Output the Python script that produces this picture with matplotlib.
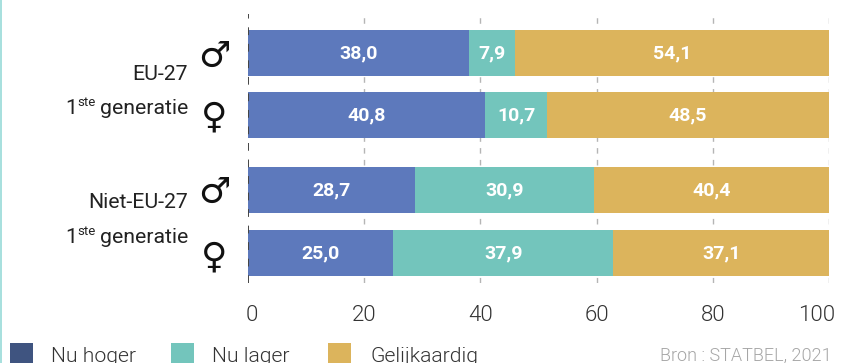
import matplotlib
matplotlib.use("Agg")
import matplotlib.pyplot as plt
from matplotlib.patches import Rectangle
from matplotlib.transforms import ScaledTranslation

plt.rcParams['font.family'] = ['Roboto', 'DejaVu Sans']

W, H = 844, 363

groups = ["EU-27", "Niet-EU-27"]
genders = ["♂", "♀", "♂", "♀"]
series_names = ["Nu hoger", "Nu lager", "Gelijkaardig"]
nu_hoger = [38.0, 40.8, 28.7, 25.0]
nu_lager = [7.9, 10.7, 30.9, 37.9]
gelijkaardig = [54.1, 48.5, 40.4, 37.1]
value_ticks = [0, 20, 40, 60, 80, 100]
source_text = "Bron : STATBEL, 2021"

bar_rows = [53, 115, 190, 253]
bar_height = 46
bar_colors = ["#5d79bc", "#73c5bc", "#dcb45c"]
legend_colors = ["#3f5480", "#73c5bc", "#dcb45c"]

fig = plt.figure(figsize=(W / 100, H / 100), dpi=100, facecolor="white")
ax = fig.add_axes([248 / W, 1 - 283 / H, (829 - 248) / W, (283 - 14) / H])
ax.set_xlim(0, 100)
ax.set_ylim(283, 14)
for s in ax.spines.values():
    s.set_visible(False)
ax.set_yticks([])
ax.set_xticks(value_ticks)
ax.set_xticklabels([str(t) for t in value_ticks], fontsize=16, color="#333333", fontweight=300)
ax.tick_params(axis="x", length=0, pad=16)

# The end labels sit slightly inward so they stay inside the figure
tick_labels = ax.get_xticklabels()
for lab, shift_px in ((tick_labels[0], 4), (tick_labels[-1], -12)):
    lab.set_transform(lab.get_transform() + ScaledTranslation(shift_px / 100, 0, fig.dpi_scale_trans))

# Dashed guides behind the bars; the zero line is darker and stays on top
for t in value_ticks:
    ax.axvline(t, color="#444444" if t == 0 else "#b5b5b5",
               lw=1.4 if t == 0 else 1.0, ls=(0, (4, 4.5)), zorder=4 if t == 0 else 1)

left = [0.0] * 4
for vals, col in zip([nu_hoger, nu_lager, gelijkaardig], bar_colors):
    ax.barh(bar_rows, vals, left=left, height=bar_height, color=col, zorder=2, lw=0)
    for y, v, l in zip(bar_rows, vals, left):
        ax.text(l + v / 2, y, f"{v:.1f}".replace(".", ","), color="white",
                fontsize=14, fontweight="bold", ha="center", va="center", zorder=3)
    left = [a + b for a, b in zip(left, vals)]

# Figure-level text placed in pixel coordinates from the top left
def px(x, y):
    return x / W, 1 - y / H

for y, sym in zip([57, 117, 193, 257], genders):
    fig.text(*px(214, y), sym, family="DejaVu Sans", fontsize=26, fontweight="bold",
             color="#111111", ha="center", va="center")

label_color = "#222222"
for name, y_name, y_gen in zip(groups, [80, 208], [114, 243]):
    fig.text(*px(188, y_name), name, fontsize=15.3, color=label_color, ha="right", va="baseline")
    fig.text(*px(188, y_gen), "generatie", fontsize=15.3, color=label_color, ha="right", va="baseline")
    fig.text(*px(65, y_gen), "1", fontsize=15.3, color=label_color, ha="left", va="baseline")
    fig.text(*px(77.5, y_gen - 8), "ste", fontsize=9.5, color=label_color, ha="left", va="baseline")

for x0, x_txt, name, col in zip([10, 171, 328], [51, 212, 370], series_names, legend_colors):
    fig.add_artist(Rectangle(px(x0, 363), 23 / W, 20 / H, transform=fig.transFigure,
                             facecolor=col, edgecolor="none"))
    fig.text(*px(x_txt, 362), name, fontsize=15.2, color="#333333", fontweight=300,
             ha="left", va="baseline")

fig.text(*px(832, 361), source_text, fontsize=13, color="#a6a6a6", fontweight=300,
         ha="right", va="baseline")

# Thin teal rule along the left edge
fig.add_artist(Rectangle((0, 0), 1.5 / W, 1, transform=fig.transFigure,
                         facecolor="#a8e0de", edgecolor="none"))

fig.savefig("out.png", dpi=100)
